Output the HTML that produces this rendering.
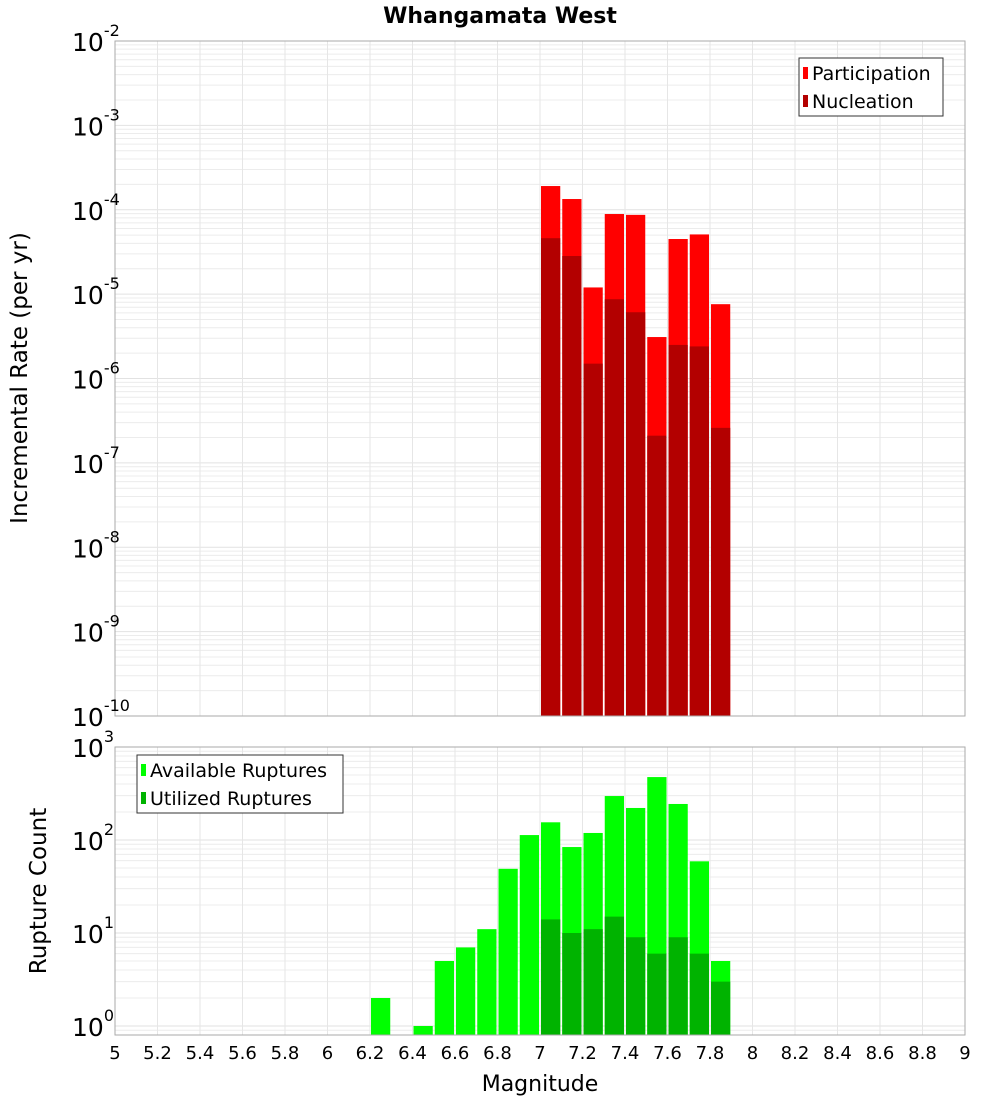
<!DOCTYPE html>
<html><head><meta charset="utf-8"><style>
html,body{margin:0;padding:0;background:#fff;}
svg{display:block;font-family:"DejaVu Sans","Liberation Sans",sans-serif;}
</style></head><body>
<svg id="chart" width="1000" height="1100" xmlns="http://www.w3.org/2000/svg">
<text x="500" y="23" text-anchor="middle" font-size="22" font-weight="bold">Whangamata West</text>
<g id="top"></g>
<g id="bot"></g>
<text transform="translate(27,378) rotate(-90)" text-anchor="middle" font-size="23">Incremental Rate (per yr)</text>
<text transform="translate(46,891) rotate(-90)" text-anchor="middle" font-size="23">Rupture Count</text>
<text x="540" y="1091" text-anchor="middle" font-size="22">Magnitude</text>
</svg>
<script>
const topMags = [7.05,7.15,7.25,7.35,7.45,7.55,7.65,7.75,7.85];
const participation = [1.91e-4,1.34e-4,1.2e-5,8.9e-5,8.7e-5,3.1e-6,4.5e-5,5.1e-5,7.6e-6];
const nucleation = [4.6e-5,2.83e-5,1.5e-6,8.7e-6,6.1e-6,2.1e-7,2.5e-6,2.4e-6,2.6e-7];
const botMags = [6.25,6.45,6.55,6.65,6.75,6.85,6.95,7.05,7.15,7.25,7.35,7.45,7.55,7.65,7.75,7.85];
const available = [2,1,5,7,11,49,113,155,84,119,297,221,475,244,59,5];
const utilized = [0,0,0,0,0,0,0,14,10,11,15,9,6,9,6,3];
const xTicks = ["5","5.2","5.4","5.6","5.8","6","6.2","6.4","6.6","6.8","7","7.2","7.4","7.6","7.8","8","8.2","8.4","8.6","8.8","9"];
const topExps = [-2,-3,-4,-5,-6,-7,-8,-9,-10];
const botExps = [3,2,1,0];

const NS="http://www.w3.org/2000/svg";
const svg=document.getElementById('chart');
function mk(tag,attrs,parent){const e=document.createElementNS(NS,tag);for(const k in attrs)e.setAttribute(k,attrs[k]);parent.appendChild(e);return e;}
const X0=115,X1=965;
const xs=m=>X0+(m-5)/(9-5)*(X1-X0);
const yTop=v=>41+(-2-Math.log10(v))*84.375;
const yBot=v=>1026-Math.log10(v)*93;

function panel(g,yT,yB,yfun,lo,hi){
  for(let e=lo;e<hi;e++){for(let k=1;k<10;k++){const y=yfun(k*Math.pow(10,e));if(y<yT||y>yB)continue;
    const l=mk('line',{x1:X0,x2:X1,y1:y,y2:y,stroke:k==1?'#e2e2e2':'#ececec','stroke-width':1},g);
    
    }}
  xTicks.forEach(t=>{const x=xs(parseFloat(t));
    const l=mk('line',{x1:x,x2:x,y1:yT,y2:yB,stroke:'#e6e6e6','stroke-width':1},g);
    
    });
}
const gT=document.getElementById('top'), gB=document.getElementById('bot');
panel(gT,41,716,yTop,-10,-1);
panel(gB,747,1035,yBot,-1,3);

function bars(g,mags,vals,yfun,base,color,name){
  mags.forEach((m,i)=>{const v=vals[i];if(!(v>0))return;const x=xs(m-0.05)+1,w=xs(m+0.05)-xs(m-0.05)-2;const y=Math.max(yfun(v),0);
    const r=mk('rect',{x:x,y:y,width:w,height:Math.max(base-y,0),fill:color},g);
    
    });
}
bars(gT,topMags,participation,yTop,716,'#ff0000','participation');
bars(gT,topMags,nucleation,yTop,716,'#b30000','nucleation');
bars(gB,botMags,available,yBot,1035,'#00ff00','available');
bars(gB,botMags,utilized,yBot,1035,'#00b300','utilized');

const bT=mk('rect',{x:X0,y:41,width:X1-X0,height:675,fill:'none',stroke:'#aaa'},gT);


const bB=mk('rect',{x:X0,y:747,width:X1-X0,height:288,fill:'none',stroke:'#aaa'},gB);



function ylab(g,e,y){const t=mk('text',{x:72,y:y+10,'text-anchor':'start','font-size':25},g);
  
  
  const a=document.createElementNS(NS,'tspan');a.textContent='10';t.appendChild(a);
  const b=document.createElementNS(NS,'tspan');b.setAttribute('dy','-15');b.setAttribute('font-size','16');b.textContent=String(e);t.appendChild(b);}
topExps.forEach(e=>ylab(gT,e,yTop(Math.pow(10,e))));
botExps.forEach(e=>ylab(gB,e,yBot(Math.pow(10,e))));

xTicks.forEach(t=>{const tx=mk('text',{x:xs(parseFloat(t)),y:1059,'text-anchor':'middle','font-size':18},svg);
  
  
  tx.textContent=t;});

function legend(g,x,y,w,items){const lg=mk('g',{},g);
  
  
  mk('rect',{x:x,y:y,width:w,height:58,fill:'#fff',stroke:'#333'},lg);
  items.forEach((it,i)=>{const yy=y+15+i*28;
    const e=mk('g',{},lg);
    
    
    mk('rect',{x:x+4,y:yy-6,width:5,height:12,fill:it[1]},e);
    const t=mk('text',{x:x+13,y:yy+7,'font-size':19},e);t.textContent=it[0];});}
legend(gT,799,58,144,[['Participation','#ff0000'],['Nucleation','#b30000']]);
legend(gB,137,755,206,[['Available Ruptures','#00ff00'],['Utilized Ruptures','#00b300']]);
</script>
</body></html>
